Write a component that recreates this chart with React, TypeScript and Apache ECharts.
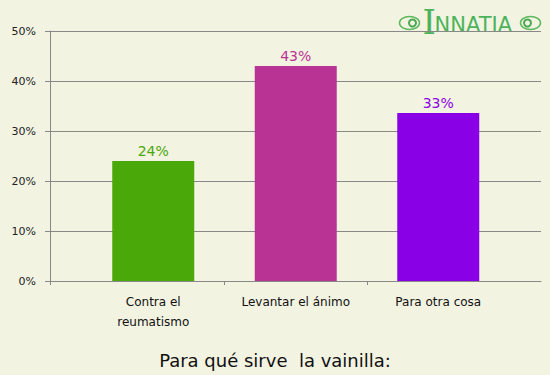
import React, { useEffect, useRef } from "react";
import * as echarts from "echarts";

const categories = ["Contra el\nreumatismo", "Levantar el ánimo", "Para otra cosa"];
const values = [24, 43, 33.6];
const barColors = ["#4aa808", "#b93394", "#8a00e6"];
const yTicks = [0, 10, 20, 30, 40, 50];
const title = "Para qué sirve  la vainilla:";

export default function App() {
  const ref = useRef<HTMLDivElement>(null);
  useEffect(() => {
    document.body.style.margin = "0";
    const chart = echarts.init(ref.current!, null, { renderer: "svg" });
    const gridTop = 31;
    const gridBottom = 94;
    const font = "'DejaVu Sans', Verdana, sans-serif";
    chart.setOption({
      animation: false,
      backgroundColor: "#f3f3e2",
      textStyle: { fontFamily: font },
      title: {
        text: title,
        left: "center",
        top: 346,
        textStyle: { fontSize: 18, fontWeight: "normal", color: "#111", fontFamily: font },
      },
      grid: [
        { left: 50, right: 9, top: gridTop, bottom: gridBottom },
        { left: 82, right: 40.5, top: gridTop, bottom: gridBottom },
      ],
      xAxis: [
        {
          gridIndex: 0,
          type: "value",
          min: 0,
          max: 1,
          position: "bottom",
          axisLine: { show: true, lineStyle: { color: "#888", width: 1 } },
          axisTick: { show: true, customValues: [0], length: 4, lineStyle: { color: "#888" } },
          axisLabel: { show: false },
          splitLine: { show: false },
        },
        {
          gridIndex: 1,
          type: "category",
          data: categories,
          position: "bottom",
          axisLine: { show: false },
          axisTick: { show: false },
          axisLabel: {
            color: "#111",
            fontSize: 12,
            lineHeight: 20,
            margin: 11,
            interval: 0,
            fontFamily: font,
          },
        },
        {
          gridIndex: 1,
          type: "value",
          min: 0,
          max: 3,
          position: "bottom",
          axisLine: { show: false },
          axisTick: { show: true, customValues: [1, 2], length: 4, lineStyle: { color: "#888" } },
          axisLabel: { show: false },
          splitLine: { show: false },
        },
      ],
      yAxis: [
        {
          gridIndex: 0,
          type: "value",
          min: yTicks[0],
          max: yTicks[yTicks.length - 1],
          interval: 10,
          axisLine: { show: true, lineStyle: { color: "#888", width: 1 } },
          axisTick: { show: true, length: 5, lineStyle: { color: "#888" } },
          axisLabel: { formatter: "{value}%", color: "#222", fontSize: 11, margin: 14, fontFamily: font },
          splitLine: { show: true, lineStyle: { color: "#888", width: 1 } },
        },
        {
          gridIndex: 1,
          type: "value",
          min: yTicks[0],
          max: yTicks[yTicks.length - 1],
          show: false,
        },
      ],
      series: [
        {
          type: "bar",
          xAxisIndex: 1,
          yAxisIndex: 1,
          barWidth: 82,
          data: values.map((v, i) => ({
            value: v,
            itemStyle: { color: barColors[i] },
            label: { color: barColors[i] },
          })),
          label: {
            show: true,
            position: "top",
            distance: 3,
            fontSize: 14,
            fontFamily: font,
            formatter: (p: any) => Math.floor(p.value) + "%",
          },
        },
      ],
      graphic: [
        {
          type: "group",
          left: 397,
          top: 5,
          children: [
            { type: "ellipse", shape: { cx: 11, cy: 18, rx: 10, ry: 6.5 }, style: { fill: "none", stroke: "#5cb85c", lineWidth: 1.5 } },
            { type: "circle", shape: { cx: 14, cy: 18, r: 3.5 }, style: { fill: "none", stroke: "#4aa852", lineWidth: 2 } },
            { type: "text", x: 24, y: 0, style: { text: "I", fontSize: 34, fontFamily: "'DejaVu Serif'", fill: "#4db35a" } },
            { type: "text", x: 36, y: 9, style: { text: "NNATIA", fontSize: 21, fontFamily: "'DejaVu Sans'", fill: "#4db35a" } },
            { type: "ellipse", shape: { cx: 132, cy: 18, rx: 10, ry: 6.5 }, style: { fill: "none", stroke: "#5cb85c", lineWidth: 1.5 } },
            { type: "circle", shape: { cx: 129, cy: 18, r: 3.5 }, style: { fill: "none", stroke: "#4aa852", lineWidth: 2 } },
          ],
        },
      ],
    });
    return () => chart.dispose();
  }, []);
  return <div ref={ref} style={{ width: 550, height: 375 }} />;
}
